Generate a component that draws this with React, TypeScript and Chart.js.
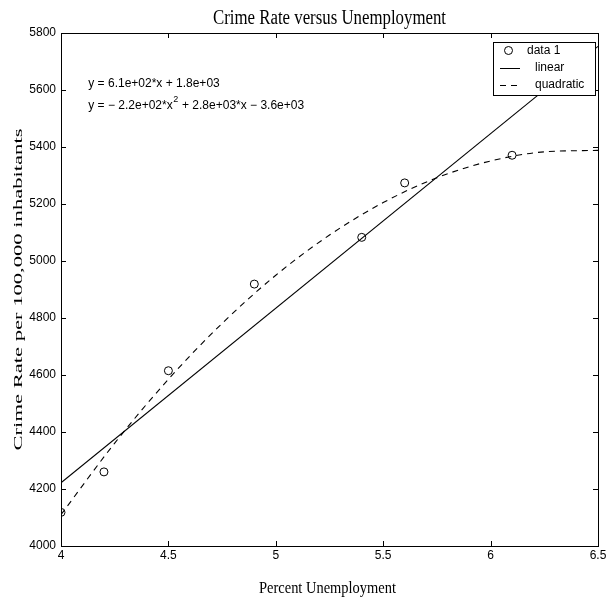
import React, { useEffect, useRef } from "react";
import { Chart, registerables } from "chart.js";

Chart.register(...registerables);

const unemployment = [4, 4.2, 4.5, 4.9, 5.4, 5.6, 6.1];
const crimeRate = [4118, 4260, 4615, 4919, 5083, 5274, 5371];

const linearX = [4, 6.5];
const linearY = [4222, 5753];

const quadX = [4, 4.25, 4.5, 4.75, 5, 5.25, 5.5, 5.75, 6, 6.25, 6.5];
const quadY = [4110, 4361, 4585, 4781, 4950, 5091, 5205, 5292, 5351, 5383, 5388];

const xTicks = [4, 4.5, 5, 5.5, 6, 6.5];
const yTicks = [4000, 4200, 4400, 4600, 4800, 5000, 5200, 5400, 5600, 5800];

const titleText = "Crime Rate versus Unemployment";
const xTitle = "Percent Unemployment";
const yTitle = "Crime Rate per 100,000 inhabitants";
const legendLabels = ["data 1", "linear", "quadratic"];
const eqLinear = "y = 6.1e+02*x + 1.8e+03";
const eqQuadA = "y = \u2212 2.2e+02*x";
const eqQuadSup = "2";
const eqQuadB = " + 2.8e+03*x \u2212 3.6e+03";
const eqPos = { x: 4.127, y1: 5622, y2: 5545 };

const SANS = "'Liberation Sans', Arial, Helvetica, sans-serif";
const SERIF = "'Liberation Serif', 'Times New Roman', serif";

function fitText(ctx: any, text: string, font: string, cx: number, baseY: number, length: number, angle: number) {
  ctx.save();
  ctx.font = font;
  const natural = ctx.measureText(text).width;
  const s = length / natural;
  ctx.translate(cx, baseY);
  ctx.rotate(angle);
  ctx.scale(s, 1);
  ctx.textAlign = "center";
  ctx.textBaseline = "alphabetic";
  ctx.fillStyle = "#000";
  ctx.fillText(text, 0, 0);
  ctx.restore();
}

const matlabPlugin = {
  id: "matlabDecor",
  afterDatasetsDraw(chart: any) {
    const ctx = chart.ctx;
    const { left, right, top, bottom } = chart.chartArea;
    const xs = chart.scales.x;
    const ys = chart.scales.y;
    ctx.save();
    const midX = (left + right) / 2;
    const midY = (top + bottom) / 2;
    fitText(ctx, titleText, `20px ${SERIF}`, midX, top - 9, 233, 0);
    fitText(ctx, xTitle, `17px ${SERIF}`, midX - 2, 593, 137, 0);
    fitText(ctx, yTitle, `13px ${SERIF}`, 22, midY, 322, -Math.PI / 2);

    ctx.fillStyle = "#000";
    ctx.font = `12px ${SANS}`;
    ctx.textBaseline = "middle";
    ctx.textAlign = "left";
    const ex = xs.getPixelForValue(eqPos.x);
    ctx.fillText(eqLinear, ex, ys.getPixelForValue(eqPos.y1));
    const y2 = ys.getPixelForValue(eqPos.y2);
    ctx.fillText(eqQuadA, ex, y2);
    const w = ctx.measureText(eqQuadA).width;
    ctx.font = `9px ${SANS}`;
    ctx.fillText(eqQuadSup, ex + w + 0.5, y2 - 6);
    const ws = ctx.measureText(eqQuadSup).width;
    ctx.font = `12px ${SANS}`;
    ctx.fillText(eqQuadB, ex + w + ws + 1, y2);

    ctx.strokeStyle = "#000";
    ctx.lineWidth = 1;
    ctx.setLineDash([]);
    ctx.strokeRect(Math.round(left) + 0.5, Math.round(top) + 0.5, Math.round(right - left), Math.round(bottom - top));
    const tl = 5;
    ctx.beginPath();
    xTicks.forEach((v) => {
      const p = Math.round(xs.getPixelForValue(v)) + 0.5;
      ctx.moveTo(p, bottom);
      ctx.lineTo(p, bottom - tl);
      ctx.moveTo(p, top);
      ctx.lineTo(p, top + tl);
    });
    yTicks.forEach((v) => {
      const p = Math.round(ys.getPixelForValue(v)) + 0.5;
      ctx.moveTo(left, p);
      ctx.lineTo(left + tl, p);
      ctx.moveTo(right, p);
      ctx.lineTo(right - tl, p);
    });
    ctx.stroke();

    const bx = right - 105;
    const by = top + 9;
    const bw = 102;
    const bh = 53;
    ctx.fillStyle = "#fff";
    ctx.fillRect(bx, by, bw, bh);
    ctx.strokeStyle = "#000";
    ctx.strokeRect(bx + 0.5, by + 0.5, bw, bh);
    ctx.fillStyle = "#000";
    ctx.font = `12px ${SANS}`;
    ctx.textBaseline = "middle";
    const rowY = [by + 8.5, by + 25.5, by + 43];
    ctx.beginPath();
    ctx.arc(bx + 15.5, rowY[0], 4, 0, Math.PI * 2);
    ctx.stroke();
    ctx.textAlign = "left";
    ctx.fillText(legendLabels[0], bx + 34, rowY[0]);
    ctx.beginPath();
    ctx.moveTo(bx + 7, Math.round(rowY[1]) + 0.5);
    ctx.lineTo(bx + 27, Math.round(rowY[1]) + 0.5);
    ctx.stroke();
    ctx.fillText(legendLabels[1], bx + 42, rowY[1]);
    ctx.setLineDash([6, 5]);
    ctx.beginPath();
    ctx.moveTo(bx + 7, Math.round(rowY[2]) + 0.5);
    ctx.lineTo(bx + 27, Math.round(rowY[2]) + 0.5);
    ctx.stroke();
    ctx.setLineDash([]);
    ctx.fillText(legendLabels[2], bx + 42, rowY[2]);
    ctx.restore();
  },
};

export default function App() {
  const ref = useRef<HTMLCanvasElement>(null);
  useEffect(() => {
    if (!ref.current) return;
    const chart = new Chart(ref.current, {
      type: "line",
      data: {
        datasets: [
          {
            label: legendLabels[0],
            data: unemployment.map((x, i) => ({ x, y: crimeRate[i] })),
            showLine: false,
            pointStyle: "circle",
            pointRadius: 4,
            pointBorderWidth: 1,
            pointBorderColor: "#000",
            pointBackgroundColor: "rgba(0,0,0,0)",
            borderColor: "#000",
          },
          {
            label: legendLabels[1],
            data: linearX.map((x, i) => ({ x, y: linearY[i] })),
            borderColor: "#000",
            borderWidth: 1.1,
            pointRadius: 0,
            tension: 0,
          },
          {
            label: legendLabels[2],
            data: quadX.map((x, i) => ({ x, y: quadY[i] })),
            borderColor: "#000",
            borderWidth: 1.1,
            borderDash: [6, 5],
            pointRadius: 0,
            cubicInterpolationMode: "monotone",
          },
        ],
      },
      options: {
        animation: false,
        responsive: false,
        devicePixelRatio: 1,
        layout: { padding: { top: 33, right: 11, left: 0, bottom: 0 } },
        plugins: {
          legend: { display: false },
          tooltip: { enabled: false },
          title: { display: false },
        },
        scales: {
          x: {
            type: "linear",
            min: 4,
            max: 6.5,
            afterBuildTicks: (s: any) => {
              s.ticks = xTicks.map((v) => ({ value: v }));
            },
            afterFit: (s: any) => {
              s.height = 55;
            },
            grid: { display: false, drawTicks: false },
            border: { display: true, color: "#000" },
            ticks: {
              color: "#000",
              font: { family: SANS, size: 12 },
              padding: 2,
              maxRotation: 0,
              callback: (v: any) => String(v),
            },
          },
          y: {
            type: "linear",
            min: 4000,
            max: 5800,
            afterBuildTicks: (s: any) => {
              s.ticks = yTicks.map((v) => ({ value: v }));
            },
            afterFit: (s: any) => {
              s.width = 61;
            },
            grid: { display: false, drawTicks: false },
            border: { display: true, color: "#000" },
            ticks: {
              color: "#000",
              font: { family: SANS, size: 12 },
              padding: 5,
              callback: (v: any) => String(v),
            },
          },
        },
      },
      plugins: [matlabPlugin],
    } as any);
    return () => chart.destroy();
  }, []);
  return (
    <div style={{ position: "fixed", left: 0, top: 0, width: 609, height: 601, background: "#fff" }}>
      <canvas ref={ref} width={609} height={601} style={{ display: "block", width: 609, height: 601 }} />
    </div>
  );
}
